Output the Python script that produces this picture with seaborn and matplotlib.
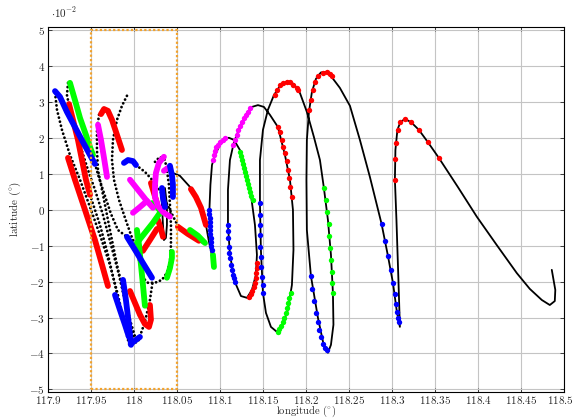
import numpy as np
import pandas as pd
import seaborn as sns
import matplotlib.pyplot as plt
from matplotlib.patches import Rectangle
from matplotlib.transforms import ScaledTranslation

# latitude values are stored in units of 1e-2 degree (axis shows "·10^-2")

# main solid trajectory
track_lon = [118.0416, 118.0531, 118.0671, 118.0764, 118.0834, 118.0869, 118.0915, 118.0927, 118.0904, 118.0880,
             118.0874, 118.0886, 118.0904, 118.0939, 118.0997, 118.1055, 118.1101, 118.1160, 118.1229, 118.1299,
             118.1357, 118.1404, 118.1427, 118.1415, 118.1369, 118.1311, 118.1241, 118.1171, 118.1113, 118.1090,
             118.1090, 118.1113, 118.1160, 118.1229, 118.1311, 118.1369, 118.1439, 118.1508, 118.1578, 118.1671,
             118.1753, 118.1811, 118.1846, 118.1852, 118.1834, 118.1787, 118.1718, 118.1660, 118.1590, 118.1532,
             118.1497, 118.1473, 118.1462, 118.1462, 118.1497, 118.1555, 118.1625, 118.1694, 118.1776, 118.1857,
             118.1927, 118.2008, 118.2090, 118.2160, 118.2206, 118.2253, 118.2288, 118.2311, 118.2317, 118.2288,
             118.2253, 118.2206, 118.2137, 118.2055, 118.2008, 118.2003, 118.2008, 118.2032, 118.2067, 118.2113,
             118.2171, 118.2229, 118.2288, 118.2392, 118.2509, 118.2625, 118.2741, 118.2877, 118.2951, 118.3009,
             118.3055, 118.3090, 118.3073, 118.3050, 118.3032, 118.3038, 118.3061, 118.3096, 118.3148, 118.3218,
             118.3311, 118.3415, 118.3543, 118.3764, 118.3985, 118.4217, 118.4450, 118.4601, 118.4741, 118.4834,
             118.4892, 118.4898, 118.4857]
track_lat = [1.06, 0.95, 0.58, 0.17, -0.42, -0.89, -1.39, -1.59, -1.11, -0.56,
             0.00, 0.70, 1.25, 1.53, 1.81, 1.98, 2.01, 1.95, 1.67, 1.11,
             0.42, -0.42, -1.25, -1.81, -2.23, -2.45, -2.40, -2.01, -1.25, -0.42,
             0.56, 1.39, 1.89, 2.31, 2.70, 2.87, 2.92, 2.87, 2.65, 2.31,
             1.53, 0.84, 0.00, -1.11, -2.09, -2.79, -3.23, -3.40, -3.26, -2.87,
             -2.31, -1.11, 0.19, 1.39, 2.23, 2.79, 3.20, 3.45, 3.58, 3.51,
             3.26, 2.73, 2.03, 1.39, 0.61, -0.28, -1.25, -2.31, -3.20, -3.76,
             -3.98, -3.79, -3.01, -1.84, -0.56, 0.84, 1.95, 2.73, 3.29, 3.65,
             3.83, 3.84, 3.73, 3.40, 2.90, 1.95, 0.92, -0.39, -1.28, -2.03,
             -2.84, -3.26, -1.95, -0.28, 0.84, 1.67, 2.23, 2.45, 2.53, 2.45,
             2.23, 1.89, 1.45, 0.64, -0.19, -0.98, -1.76, -2.20, -2.51, -2.65,
             -2.54, -2.23, -1.67]

# small solid loop inside the box
loop_lon = [118.0310, 118.0322, 118.0334, 118.0345, 118.0368, 118.0380, 118.0380, 118.0357]
loop_lat = [0.61, 0.14, -0.42, -0.84, -0.78, -0.42, 0.14, 0.61]

# dotted trajectories
dot1_lon = [117.9078, 117.9101, 117.9159, 117.9252, 117.9369, 117.9485, 117.9601, 117.9717, 117.9810, 117.9880, 117.9927, 117.9950]
dot1_lat = [3.26, 2.79, 2.23, 1.53, 0.84, 0.08, -0.70, -1.53, -2.37, -3.12, -3.62, -3.82]
dot2_lon = [117.9229, 117.9217, 117.9276, 117.9369, 117.9462, 117.9543, 117.9636, 117.9729, 117.9822, 117.9903,
            117.9973, 117.9997, 118.0043, 118.0124, 118.0182, 118.0217]
dot2_lat = [3.54, 3.20, 2.51, 1.81, 1.11, 0.56, -0.14, -0.97, -1.81, -2.65, -3.34, -3.70, -3.68, -3.12, -2.51, -1.95]
dot3_lon = [117.9648, 117.9590, 117.9566, 117.9566, 117.9578, 117.9648, 117.9717, 117.9799, 117.9880, 117.9950, 118.0020, 118.0066]
dot3_lat = [2.84, 2.65, 2.23, 1.67, 1.11, 0.28, -0.56, -1.53, -2.37, -3.06, -3.62, -3.57]
dot4_lon = [117.9915, 117.9857, 117.9799, 117.9752, 117.9741, 117.9764, 117.9822, 117.9892, 117.9962, 118.0031,
            118.0066, 118.0101, 118.0159, 118.0241, 118.0322, 118.0380, 118.0415, 118.0427, 118.0427, 118.0415,
            118.0403, 118.0380, 118.0357, 118.0299, 118.0241]
dot4_lat = [3.18, 2.90, 2.51, 1.95, 1.39, 0.84, 0.28, -0.22, -0.70, -1.11,
            -1.53, -1.89, -2.03, -2.03, -1.95, -1.75, -1.45, -0.97, -0.42, 0.14,
            0.70, 1.11, 1.39, 1.48, 1.34]
dot5_lon = [118.0020, 118.0124, 118.0241, 118.0334, 118.0415, 118.0508, 118.0752, 118.0834]
dot5_lat = [1.25, 1.06, 0.75, 0.39, 0.00, -0.45, -0.86, -0.95]
dot6_lon = [117.9485, 117.9601, 117.9694, 117.9776, 117.9845, 117.9915, 117.9950]
dot6_lat = [0.42, -0.42, -1.25, -2.09, -2.79, -3.48, -3.76]
dot7_lon = [117.9543, 117.9590, 117.9659, 117.9729, 117.9810, 117.9915]
dot7_lat = [1.28, 0.89, 0.39, -0.11, -0.56, -0.75]

# dense (thick) coloured stretches
red_thick = [
    ([117.9229, 117.9310, 117.9427, 117.9543, 117.9625, 117.9694], [1.45, 0.84, 0.00, -0.84, -1.53, -2.12]),
    ([117.9241, 117.9287, 117.9345, 117.9392, 117.9438, 117.9485], [2.95, 2.51, 1.95, 1.39, 0.84, 0.42]),
    ([117.9613, 117.9648, 117.9694, 117.9741, 117.9799, 117.9857], [2.67, 2.81, 2.76, 2.51, 2.09, 1.67]),
    ([117.9950, 118.0008, 118.0066, 118.0124, 118.0171, 118.0194, 118.0182], [-2.26, -2.59, -2.92, -3.18, -3.26, -3.06, -2.65]),
    ([118.0101, 118.0182, 118.0264], [-1.14, -0.84, -0.53]),
    ([118.0276, 118.0310, 118.0334], [-0.28, -0.53, -0.75]),
    ([118.0194, 118.0229, 118.0264], [0.75, 0.47, 0.19]),
    ([118.0659, 118.0717, 118.0776, 118.0834], [0.58, 0.36, 0.06, -0.42]),
    ([118.0508, 118.0624, 118.0752], [-0.47, -0.67, -0.86]),
]
green_thick = [
    ([117.9252, 117.9310, 117.9369, 117.9438, 117.9485, 117.9520], [3.54, 3.06, 2.56, 2.09, 1.75, 1.53]),
    ([118.0031, 118.0055, 118.0078, 118.0101, 118.0124], [-0.56, -0.97, -1.53, -2.09, -2.67]),
    ([118.0031, 118.0124, 118.0217, 118.0299], [-0.92, -0.64, -0.36, -0.08]),
    ([118.0206, 118.0264, 118.0322], [0.19, 0.08, -0.08]),
    ([118.0380, 118.0415, 118.0438, 118.0438], [-1.89, -1.62, -1.34, -1.17]),
    ([118.0648, 118.0741, 118.0822], [-0.56, -0.72, -0.92]),
    ([118.0915, 118.0927], [-1.25, -1.59]),
]
magenta_thick = [
    ([117.9578, 117.9613, 117.9648, 117.9683], [2.37, 1.95, 1.45, 0.92]),
    ([118.0345, 118.0287, 118.0252, 118.0241, 118.0241, 118.0276, 118.0334, 118.0415], [1.48, 1.31, 1.03, 0.70, 0.36, 0.11, -0.06, -0.19]),
    ([117.9950, 118.0043, 118.0136, 118.0217], [0.84, 0.56, 0.28, 0.06]),
    ([117.9985, 118.0066, 118.0148], [-0.08, 0.08, 0.25]),
    ([118.0345, 118.0392], [1.09, 1.17]),
]
blue_thick = [
    ([117.9078, 117.9136, 117.9217, 117.9310, 117.9403, 117.9485, 117.9543], [3.31, 3.15, 2.73, 2.31, 1.89, 1.53, 1.28]),
    ([117.9880, 117.9927, 117.9985, 118.0020], [1.31, 1.39, 1.36, 1.25]),
    ([118.0415, 118.0438, 118.0450, 118.0450], [1.23, 0.97, 0.70, 0.36]),
    ([118.0322, 118.0334, 118.0357], [0.61, 0.33, 0.08]),
    ([117.9915, 118.0008, 118.0101, 118.0206], [-0.75, -1.11, -1.48, -1.89]),
    ([117.9869, 117.9903, 117.9938, 117.9962], [-1.95, -2.51, -3.20, -3.76]),
    ([117.9776, 117.9834, 117.9892, 117.9938], [-2.37, -2.79, -3.20, -3.54]),
    ([117.9962, 118.0020, 118.0066], [-3.73, -3.62, -3.54]),
]

# sampled points along the solid trajectory
red_pts_lon = [118.1430, 118.1427, 118.1421, 118.1415, 118.1403, 118.1392, 118.1374, 118.1357, 118.1337,
               118.1674, 118.1694, 118.1721, 118.1733, 118.1752, 118.1772, 118.1791, 118.1802, 118.1810, 118.1830,
               118.1636, 118.1656, 118.1694, 118.1733, 118.1772, 118.1810, 118.1849, 118.1888, 118.1907,
               118.2035, 118.2051, 118.2074, 118.2101, 118.2140, 118.2191, 118.2237, 118.2276, 118.2295,
               118.3031, 118.3031, 118.3040, 118.3063, 118.3093, 118.3148, 118.3221, 118.3311, 118.3419, 118.3543]
red_pts_lat = [-1.48, -1.62, -1.75, -1.89, -2.03, -2.14, -2.26, -2.35, -2.42,
               2.32, 2.18, 1.95, 1.76, 1.58, 1.35, 1.11, 0.88, 0.65, 0.37,
               3.20, 3.34, 3.48, 3.55, 3.57, 3.56, 3.48, 3.39, 3.34,
               2.79, 3.06, 3.34, 3.57, 3.73, 3.82, 3.83, 3.79, 3.73,
               0.84, 1.41, 1.87, 2.23, 2.44, 2.53, 2.45, 2.24, 1.89, 1.44]
green_pts_lon = [118.1229, 118.1247, 118.1258, 118.1270, 118.1281, 118.1293, 118.1305, 118.1316, 118.1328, 118.1340,
                 118.1351, 118.1363, 118.1377,
                 118.1819, 118.1805, 118.1793, 118.1779, 118.1764, 118.1747, 118.1729, 118.1706, 118.1688, 118.1674,
                 118.2206, 118.2229, 118.2244, 118.2260, 118.2267, 118.2279, 118.2291, 118.2299, 118.2302, 118.2307]
green_pts_lat = [1.62, 1.50, 1.39, 1.28, 1.17, 1.06, 0.95, 0.84, 0.72, 0.61,
                 0.50, 0.39, 0.28,
                 -2.32, -2.45, -2.59, -2.73, -2.87, -3.01, -3.12, -3.23, -3.33, -3.39,
                 0.60, 0.28, -0.06, -0.39, -0.72, -1.07, -1.39, -1.72, -2.03, -2.32]
blue_pts_lon = [118.0872, 118.0874, 118.0877, 118.0879, 118.0881, 118.0884, 118.0886, 118.0890, 118.0892, 118.0895, 118.0900,
                118.1086, 118.1090, 118.1093, 118.1101, 118.1105, 118.1113, 118.1124, 118.1133, 118.1144, 118.1159, 118.1171,
                118.1462, 118.1462, 118.1458, 118.1458, 118.1462, 118.1470, 118.1477, 118.1485, 118.1493, 118.1500,
                118.2055, 118.2070, 118.2090, 118.2109, 118.2133, 118.2151, 118.2171, 118.2198, 118.2221, 118.2237,
                118.2877, 118.2915, 118.2953, 118.2981, 118.3005, 118.3028, 118.3047, 118.3058, 118.3070, 118.3081]
blue_pts_lat = [0.00, -0.11, -0.22, -0.33, -0.45, -0.56, -0.67, -0.78, -0.89, -1.00, -1.11,
                -0.42, -0.60, -0.79, -1.02, -1.21, -1.35, -1.53, -1.67, -1.81, -1.90, -2.00,
                0.19, -0.14, -0.42, -0.70, -1.02, -1.30, -1.58, -1.86, -2.09, -2.32,
                -1.84, -2.21, -2.55, -2.86, -3.11, -3.34, -3.55, -3.73, -3.85, -3.90,
                -0.40, -0.86, -1.28, -1.67, -2.03, -2.35, -2.63, -2.84, -3.00, -3.11]
magenta_pts_lon = [118.0919, 118.0927, 118.0938, 118.0956, 118.0979, 118.1002, 118.1031, 118.1055,
                   118.1151, 118.1171, 118.1191, 118.1212, 118.1229, 118.1252, 118.1276, 118.1299, 118.1322, 118.1345]
magenta_pts_lat = [1.39, 1.53, 1.64, 1.74, 1.82, 1.89, 1.96, 2.00,
                   1.81, 1.95, 2.09, 2.23, 2.34, 2.45, 2.56, 2.65, 2.74, 2.83]

# dotted box (region of interest)
box_lon = [117.95, 118.05]
box_lat = [-5.0, 5.0]

lon_ticks = [117.9, 117.95, 118.0, 118.05, 118.1, 118.15, 118.2, 118.25, 118.3, 118.35, 118.4, 118.45, 118.5]
lon_tick_labels = ["117.9", "117.95", "118", "118.05", "118.1", "118.15", "118.2", "118.25",
                   "118.3", "118.35", "118.4", "118.45", "118.5"]
lat_ticks = [-5, -4, -3, -2, -1, 0, 1, 2, 3, 4, 5]

sns.set_theme(style="ticks")
plt.rcParams.update({
    "font.family": "serif",
    "font.serif": ["cmr10", "DejaVu Serif"],
    "mathtext.fontset": "cm",
    "axes.unicode_minus": False,
    "axes.formatter.use_mathtext": True,
})

FS = 8
RED, GREEN, BLUE, MAGENTA = "#ff0000", "#00ff00", "#0000ff", "#ff00ff"

fig = plt.figure(figsize=(5.75, 4.2), dpi=100)
ax = fig.add_axes([0.084, 0.067, 0.897, 0.869])

dotted = [(dot1_lon, dot1_lat), (dot2_lon, dot2_lat), (dot3_lon, dot3_lat), (dot4_lon, dot4_lat),
          (dot5_lon, dot5_lat), (dot6_lon, dot6_lat), (dot7_lon, dot7_lat)]
for lon, lat in dotted:
    sns.lineplot(x=lon, y=lat, sort=False, estimator=None, ax=ax, color="black",
                 lw=2.0, linestyle=(0, (0.05, 1.45)), dash_capstyle="round", zorder=2)

sns.lineplot(x=track_lon, y=track_lat, sort=False, estimator=None, ax=ax, color="black", lw=1.3, zorder=3)
sns.lineplot(x=loop_lon, y=loop_lat, sort=False, estimator=None, ax=ax, color="black", lw=1.3, zorder=3)

for segs, col in [(red_thick, RED), (green_thick, GREEN), (magenta_thick, MAGENTA), (blue_thick, BLUE)]:
    for lon, lat in segs:
        sns.lineplot(x=lon, y=lat, sort=False, estimator=None, ax=ax, color=col, lw=4.2,
                     solid_capstyle="round", zorder=4)

for lon, lat, col in [(red_pts_lon, red_pts_lat, RED), (green_pts_lon, green_pts_lat, GREEN),
                      (blue_pts_lon, blue_pts_lat, BLUE), (magenta_pts_lon, magenta_pts_lat, MAGENTA)]:
    sns.scatterplot(x=lon, y=lat, ax=ax, color=col, s=15, linewidth=0, zorder=5)

ax.add_patch(Rectangle((box_lon[0], box_lat[0]), box_lon[1] - box_lon[0], box_lat[1] - box_lat[0],
                       fill=False, ec="#f2a22c", lw=1.6, ls=(0, (1, 1)), zorder=6))

ax.set_xlim(117.9, 118.5)
ax.set_ylim(-5.07, 5.1)
ax.set_xticks(lon_ticks)
ax.set_xticklabels([f"${t}$" for t in lon_tick_labels], fontsize=FS)
ax.set_yticks(lat_ticks)
ax.set_yticklabels([f"${t}$" for t in lat_ticks], fontsize=FS)
ax.tick_params(direction="in", top=True, right=True, length=3, width=0.6)
ax.tick_params(axis="x", pad=1.5)
ax.tick_params(axis="y", pad=2.5)
ax.grid(True, color="#c4c4c4", lw=0.8)
ax.set_axisbelow(True)
for sp in ax.spines.values():
    sp.set_color("black")
    sp.set_linewidth(0.8)

# keep the last longitude label inside the canvas
last = ax.get_xticklabels()[-1]
last.set_transform(last.get_transform() + ScaledTranslation(-3 / 72, 0, fig.dpi_scale_trans))

ax.set_xlabel("")
fig.text(0.533, 0.0195, r"longitude ($^{\circ}$)", fontsize=7.6, ha="center", va="center")
ax.set_ylabel(r"latitude ($^{\circ}$)", fontsize=FS, labelpad=4)
fig.text(0.088, 0.97, r"$\cdot 10^{-2}$", fontsize=FS, ha="left", va="center")

fig.savefig("out.png", dpi=100)
